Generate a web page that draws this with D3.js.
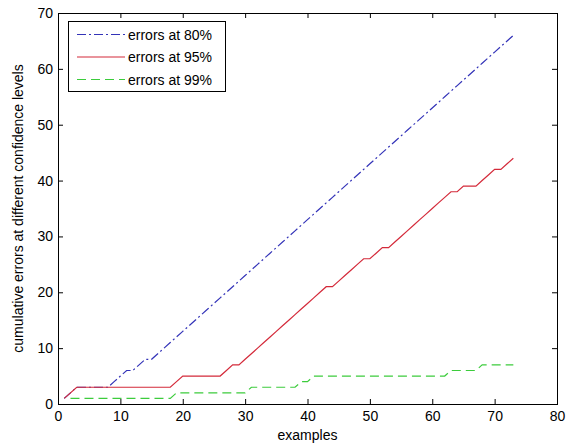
<!DOCTYPE html>
<html>
<head>
<meta charset="utf-8">
<script src="https://cdn.jsdelivr.net/npm/d3@7"></script>
<style>
  html, body { margin: 0; padding: 0; background: #fff; }
  svg { display: block; font-family: "Liberation Sans", Arial, sans-serif; }
</style>
</head>
<body>
<svg id="chart" width="566" height="446"></svg>
<script>
// Example index (1..73)
const examples = d3.range(1, 74);

// Cumulative errors at each confidence level (null = not plotted)
const errors80 = [1,2,3,3,3,3,3,3,4,5,6,6,7,8,8,9,10,11,12,13,
  14,15,16,17,18,19,20,21,22,23,24,25,26,27,28,29,30,31,32,33,
  34,35,36,37,38,39,40,41,42,43,44,45,46,47,48,49,50,51,52,53,
  54,55,56,57,58,59,60,61,62,63,64,65,66];
const errors95 = [1,2,3,3,3,3,3,3,3,3,3,3,3,3,3,3,3,3,4,5,
  5,5,5,5,5,5,6,7,7,8,9,10,11,12,13,14,15,16,17,18,
  19,20,21,21,22,23,24,25,26,26,27,28,28,29,30,31,32,33,34,35,
  36,37,38,38,39,39,39,40,41,42,42,43,44];
const errors99 = [null,1,1,1,1,1,1,1,1,1,1,1,1,1,1,1,1,1,2,2,
  2,2,2,2,2,2,2,2,2,2,3,3,3,3,3,3,3,3,4,4,
  5,5,5,5,5,5,5,5,5,5,5,5,5,5,5,5,5,5,5,5,
  5,5,6,6,6,6,6,7,7,7,7,7,7];

const xTicks = [0, 10, 20, 30, 40, 50, 60, 70, 80];
const yTicks = [0, 10, 20, 30, 40, 50, 60, 70];

const seriesNames = ["errors at 80%", "errors at 95%", "errors at 99%"];
const seriesColors = ["#3333b8", "#d42a3a", "#3ccc3c"];
const seriesDash = ["9,3,2,3", null, "9,5"];
const seriesValues = [errors80, errors95, errors99];

const svg = d3.select("#chart");
const plot = { left: 58, right: 557, top: 13, bottom: 404 };

const x = d3.scaleLinear().domain([0, 80]).range([plot.left, plot.right]);
const y = d3.scaleLinear().domain([0, 70]).range([plot.bottom, plot.top]);

const tickLen = 5;

// Axes with inward ticks on all four sides
const axisBottom = d3.axisBottom(x).tickValues(xTicks).tickSizeInner(-tickLen).tickSizeOuter(0).tickPadding(7);
const axisTop = d3.axisTop(x).tickValues(xTicks).tickSizeInner(-tickLen).tickSizeOuter(0).tickFormat("");
const axisLeft = d3.axisLeft(y).tickValues(yTicks).tickSizeInner(-tickLen).tickSizeOuter(0).tickPadding(5);
const axisRight = d3.axisRight(y).tickValues(yTicks).tickSizeInner(-tickLen).tickSizeOuter(0).tickFormat("");

function styleAxis(g) {
  g.select(".domain").remove();
  g.selectAll(".tick line").attr("stroke", "#000").attr("stroke-width", 1);
  g.selectAll(".tick text").attr("fill", "#000").attr("font-size", 14)
    .attr("font-family", "'Liberation Sans', Arial, sans-serif");
}

svg.append("g").attr("transform", `translate(0,${plot.bottom})`).call(axisBottom).call(styleAxis);
svg.append("g").attr("transform", `translate(0,${plot.top})`).call(axisTop).call(styleAxis);
svg.append("g").attr("transform", `translate(${plot.left},0)`).call(axisLeft).call(styleAxis);
svg.append("g").attr("transform", `translate(${plot.right},0)`).call(axisRight).call(styleAxis);

// Plot frame
svg.append("rect")
  .attr("x", plot.left + 0.5).attr("y", plot.top + 0.5)
  .attr("width", plot.right - plot.left).attr("height", plot.bottom - plot.top)
  .attr("fill", "none").attr("stroke", "#000").attr("stroke-width", 1);

// Series lines
const line = d3.line()
  .defined(d => d.v !== null)
  .x(d => x(d.x))
  .y(d => y(d.v));

seriesValues.forEach((vals, i) => {
  const data = examples.map((ex, j) => ({ x: ex, v: vals[j] }));
  svg.append("path")
    .datum(data)
    .attr("d", line)
    .attr("fill", "none")
    .attr("stroke", seriesColors[i])
    .attr("stroke-width", 1.2)
    .attr("stroke-dasharray", seriesDash[i]);
});

// Axis titles
svg.append("text")
  .attr("x", x(40)).attr("y", 440)
  .attr("text-anchor", "middle").attr("font-size", 14).attr("fill", "#000")
  .text("examples");

svg.append("text")
  .attr("transform", `translate(23,${(plot.top + plot.bottom) / 2}) rotate(-90)`)
  .attr("text-anchor", "middle").attr("font-size", 14).attr("fill", "#000")
  .text("cumulative errors at different confidence levels");

// Legend
const legend = svg.append("g");
legend.append("rect")
  .attr("x", 68.5).attr("y", 21.5).attr("width", 157).attr("height", 70)
  .attr("fill", "#fff").attr("stroke", "#000").attr("stroke-width", 1);

seriesNames.forEach((name, i) => {
  const ly = 34.5 + i * 22.5;
  legend.append("line")
    .attr("x1", 77).attr("x2", 125).attr("y1", ly).attr("y2", ly)
    .attr("stroke", seriesColors[i]).attr("stroke-width", 1.2)
    .attr("stroke-dasharray", seriesDash[i]);
  legend.append("text")
    .attr("x", 128).attr("y", ly + 5)
    .attr("font-size", 14).attr("fill", "#000")
    .text(name);
});
</script>
</body>
</html>
